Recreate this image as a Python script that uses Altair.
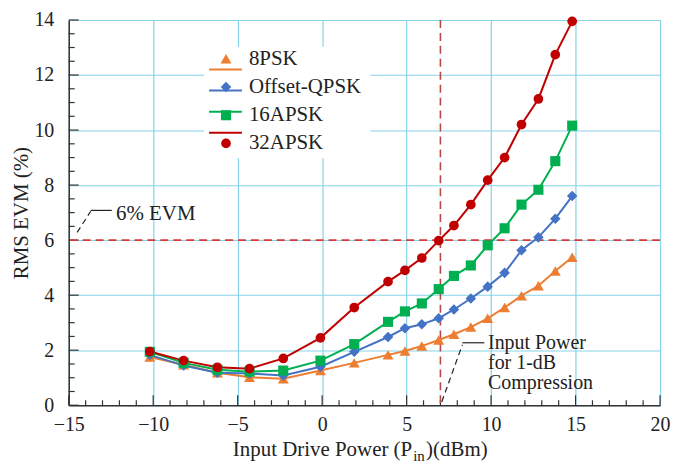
import altair as alt
import pandas as pd

# ---------------- data ----------------
x_pin = [-10.2, -8.2, -6.2, -4.3, -2.3, -0.1, 1.9, 3.9, 4.9, 5.9, 6.9,
         7.8, 8.8, 9.8, 10.8, 11.8, 12.8, 13.8, 14.8]
evm_8psk = [1.75, 1.47, 1.18, 1.02, 0.96, 1.26, 1.54, 1.83, 1.97, 2.15, 2.37,
            2.58, 2.84, 3.16, 3.55, 3.98, 4.34, 4.88, 5.38]
evm_oqpsk = [1.83, 1.44, 1.18, 1.15, 1.08, 1.40, 1.94, 2.48, 2.80, 2.94, 3.16,
             3.48, 3.88, 4.31, 4.81, 5.63, 6.10, 6.78, 7.60]
evm_16apsk = [1.94, 1.54, 1.29, 1.22, 1.26, 1.62, 2.22, 3.03, 3.41, 3.70, 4.22,
              4.70, 5.08, 5.81, 6.43, 7.29, 7.83, 8.87, 10.16]
evm_32apsk = [1.95, 1.62, 1.38, 1.33, 1.70, 2.45, 3.55, 4.49, 4.90, 5.35, 5.98,
              6.53, 7.29, 8.18, 9.00, 10.20, 11.13, 12.74, 13.95]

series_names = ["8PSK", "Offset-QPSK", "16APSK", "32APSK"]
series_colors = ["#ED7D31", "#4472C4", "#00B050", "#C00000"]
series_shapes = ["triangle-up", "diamond", "square", "circle"]
series_sizes = [120, 95, 110, 155]

x_major = [-15, -10, -5, 0, 5, 10, 15, 20]
x_minor = [v for v in range(-15, 21) if v % 5 != 0]
y_major = [0, 2, 4, 6, 8, 10, 12, 14]
y_minor = [v / 2 for v in range(0, 29) if v % 4 != 0]

evm_limit = [6]
p1db_input = [7]

# annotation leaders (data coordinates)
evm_note_dash_x = [-14.5, -13.7]
evm_note_dash_y = [6.28, 7.05]
evm_note_solid_x = [-13.7, -12.45]
evm_note_solid_y = [7.08, 7.08]
evm_note_text = ["6% EVM"]
evm_note_pos = [-12.2, 6.95]

p1_note_dash_x = [7.08, 8.3]
p1_note_dash_y = [0.12, 2.2]
p1_note_solid_x = [8.3, 9.6]
p1_note_solid_y = [2.27, 2.27]
p1_note_text = ["Input Power\nfor 1-dB\nCompression"]
p1_note_pos = [9.82, 2.27]

# ---------------- tables ----------------
rows = []
for name, vals in zip(series_names, [evm_8psk, evm_oqpsk, evm_16apsk, evm_32apsk]):
    for xv, yv in zip(x_pin, vals):
        rows.append({"series": name, "pin": xv, "evm": yv})
df = pd.DataFrame(rows)

FONT = "Liberation Serif"
INK = "#222222"
W, H = 594, 387
XS = alt.Scale(domain=[-15, 20], nice=False, zero=False)
YS = alt.Scale(domain=[0, 14], nice=False, zero=False)
color = alt.Color("series:N", scale=alt.Scale(domain=series_names, range=series_colors), legend=None)
shape = alt.Shape("series:N", scale=alt.Scale(domain=series_names, range=series_shapes), legend=None)
size = alt.Size("series:N", scale=alt.Scale(domain=series_names, range=series_sizes), legend=None)

# axes + grid layer
axis_layer = alt.Chart(pd.DataFrame({"v": [0]})).mark_point(opacity=0).encode(
    x=alt.X("v:Q", scale=XS, axis=alt.Axis(values=x_major, grid=True, ticks=False, title=None,
                                            labelPadding=9, labelFlush=False)),
    y=alt.Y("v:Q", scale=YS, axis=alt.Axis(values=y_major, grid=True, ticks=False,
                                            title="RMS EVM (%)", labelPadding=15,
                                            titlePadding=2)),
)

def xticks(vals, length):
    return alt.Chart(pd.DataFrame({"v": vals})).mark_rule(color="#333", strokeWidth=1.2).encode(
        x=alt.X("v:Q", scale=XS, axis=None), y=alt.value(H), y2=alt.value(H - length))

def yticks(vals, length):
    return alt.Chart(pd.DataFrame({"v": vals})).mark_rule(color="#333", strokeWidth=1.2).encode(
        y=alt.Y("v:Q", scale=YS, axis=None), x=alt.value(0), x2=alt.value(length))

hline = alt.Chart(pd.DataFrame({"v": evm_limit})).mark_rule(
    color="#D63A36", strokeWidth=1.6, strokeDash=[8, 5]).encode(y=alt.Y("v:Q", scale=YS, axis=None))
vline = alt.Chart(pd.DataFrame({"v": p1db_input})).mark_rule(
    color="#B84848", strokeWidth=1.6, strokeDash=[8, 5]).encode(x=alt.X("v:Q", scale=XS, axis=None))

lines = alt.Chart(df).mark_line(strokeWidth=2).encode(
    x=alt.X("pin:Q", scale=XS, axis=None),
    y=alt.Y("evm:Q", scale=YS, axis=None),
    color=color, detail="series:N", order="pin:Q")
points = alt.Chart(df).mark_point(filled=True, opacity=1).encode(
    x=alt.X("pin:Q", scale=XS, axis=None),
    y=alt.Y("evm:Q", scale=YS, axis=None),
    color=color, shape=shape, size=size)

def seg(xs, ys, dash=None):
    kw = dict(color=INK, strokeWidth=1.2)
    if dash:
        kw["strokeDash"] = dash
    return alt.Chart(pd.DataFrame({"x": [xs[0]], "y": [ys[0]], "x2": [xs[1]], "y2": [ys[1]]})).mark_rule(**kw).encode(
        x=alt.X("x:Q", scale=XS, axis=None), y=alt.Y("y:Q", scale=YS, axis=None), x2="x2:Q", y2="y2:Q")

def txt(**kw):
    return dict(font=FONT, color=INK, fill=INK, **kw)

evm_text = alt.Chart(pd.DataFrame({"t": evm_note_text, "x": [evm_note_pos[0]], "y": [evm_note_pos[1]]})).mark_text(
    **txt(fontSize=21, align="left", baseline="middle")).encode(
    x=alt.X("x:Q", scale=XS, axis=None), y=alt.Y("y:Q", scale=YS, axis=None), text="t:N")
p1_text = alt.Chart(pd.DataFrame({"t": p1_note_text, "x": [p1_note_pos[0]], "y": [p1_note_pos[1]]})).mark_text(
    **txt(fontSize=20, align="left", baseline="middle", lineBreak="\n", lineHeight=20)).encode(
    x=alt.X("x:Q", scale=XS, axis=None), y=alt.Y("y:Q", scale=YS, axis=None), text="t:N")

# x-axis title with subscript
title_main = alt.Chart(pd.DataFrame({"t": ["Input Drive Power (P"]})).mark_text(
    **txt(fontSize=21, align="right", baseline="alphabetic")).encode(
    x=alt.value(345), y=alt.value(H + 51), text="t:N")
title_sub = alt.Chart(pd.DataFrame({"t": ["in"]})).mark_text(
    **txt(fontSize=15, align="left", baseline="alphabetic")).encode(
    x=alt.value(346), y=alt.value(H + 56), text="t:N")
title_end = alt.Chart(pd.DataFrame({"t": [")(dBm)"]})).mark_text(
    **txt(fontSize=21, align="left", baseline="alphabetic")).encode(
    x=alt.value(359), y=alt.value(H + 51), text="t:N")

# manual legend
leg_df = pd.DataFrame({"series": series_names})
LY = alt.Y("series:N", sort=series_names, scale=alt.Scale(domain=series_names, range=[39, 124], padding=0), axis=None)
leg_bg = alt.Chart(pd.DataFrame({"v": [0]})).mark_rect(color="white").encode(
    x=alt.value(136), x2=alt.value(303), y=alt.value(27), y2=alt.value(139))
leg_line = alt.Chart(leg_df).mark_rule(strokeWidth=2).encode(
    x=alt.value(141), x2=alt.value(174), y=LY, color=color)
leg_pt = alt.Chart(leg_df).mark_point(filled=True, opacity=1).encode(
    x=alt.value(158), y=LY, color=color, shape=shape, size=size)
leg_txt = alt.Chart(leg_df).mark_text(**txt(fontSize=21, align="left", baseline="middle")).encode(
    x=alt.value(181), y=LY, text="series:N")

chart = alt.layer(
    axis_layer,
    xticks(x_minor, 5), xticks(x_major, 10), yticks(y_minor, 6), yticks(y_major, 10),
    hline, vline,
    lines, points,
    seg(evm_note_dash_x, evm_note_dash_y, [6, 4]), seg(evm_note_solid_x, evm_note_solid_y),
    seg(p1_note_dash_x, p1_note_dash_y, [6, 4]), seg(p1_note_solid_x, p1_note_solid_y),
    evm_text, p1_text,
    title_main, title_sub, title_end,
    leg_bg, leg_line, leg_pt, leg_txt,
).resolve_scale(x="independent", y="independent").properties(
    width=W, height=H,
    autosize=alt.AutoSizeParams(type="none"),
    padding={"left": 61, "top": 11, "right": 10, "bottom": 58},
    background="white",
).configure_view(stroke=None).configure_axis(
    labelFont=FONT, labelFontSize=20, labelColor=INK,
    titleFont=FONT, titleFontSize=21, titleFontWeight="normal", titleColor=INK,
    domainColor="#333", domainWidth=1.5,
    gridColor="#86D3EA", gridWidth=1.2, gridOpacity=1,
)

chart.save("out.html", embed_options={"renderer": "svg", "actions": False})
